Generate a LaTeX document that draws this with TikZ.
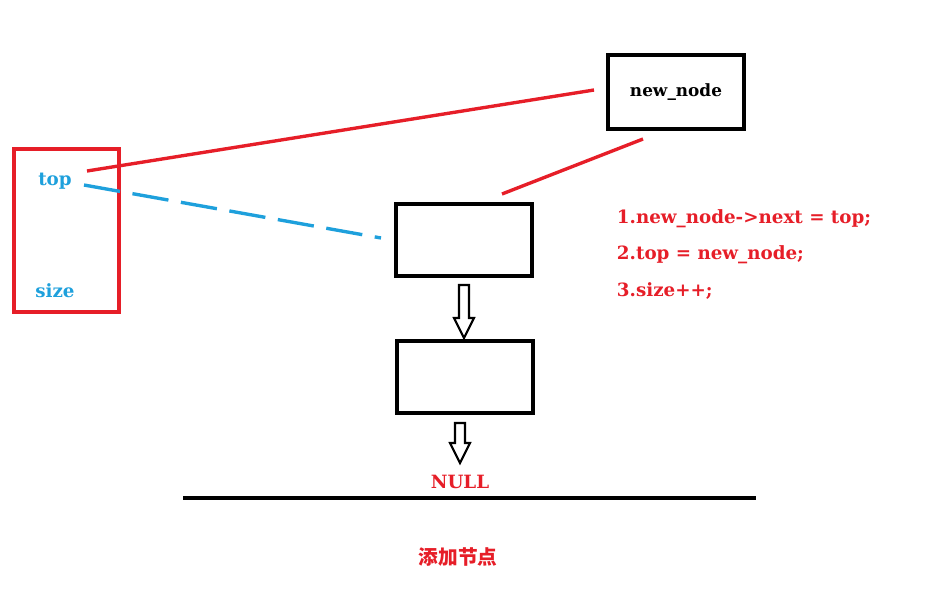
\documentclass[tikz,border=0pt]{standalone}
\usepackage{fontspec}
\setmainfont{DejaVu Serif}
\newfontfamily\cjk{Noto Sans CJK SC}
\usetikzlibrary{positioning}
\definecolor{StackRed}{RGB}{230, 30, 40}
\definecolor{StackBlue}{RGB}{30, 160, 220}
\begin{document}
\begin{tikzpicture}[x=0.025cm,y=-0.025cm,
    listbox/.style={draw=black, line width=2.6pt, minimum width=3.4cm, minimum height=1.8cm, inner sep=0pt},
    redtxt/.style={text=StackRed, font=\bfseries\fontsize{13}{15}\selectfont},
    bluetxt/.style={text=StackBlue, font=\bfseries\fontsize{13}{15}\selectfont},
    hollowarrow/.style={draw=black, line width=1.5pt, fill=white}]
    \useasboundingbox (0,0) rectangle (947,606);
    % Stack struct
    \draw[StackRed, line width=2.6pt] (14,149) rectangle (119,312);
    \node[bluetxt] (top) at (55,181) {top};
    \node[bluetxt] (size) at (55,291) {size};
    % List nodes
    \node[listbox, minimum width=3.4cm, minimum height=1.85cm] (newnode) at (676,92) {\bfseries\fontsize{12}{14}\selectfont new\_node};
    \node[listbox] (first) at (464,240) {};
    \node[listbox] (second) at (465,377) {};
    % Link ends
    \coordinate (topend) at (87,171);
    \coordinate (newin) at (594,90);
    \coordinate (newout) at (643,139);
    \coordinate (firstin) at (502,194);
    \coordinate (topold) at (84,185);
    \coordinate (firstold) at (381,238);
    \draw[StackRed, line width=2.4pt] (topend) -- (newin);
    \draw[StackRed, line width=2.4pt] (newout) -- (firstin);
    \draw[StackBlue, line width=2.4pt, dash pattern=on 26pt off 9pt] (topold) -- (firstold);
    % Next arrows
    \foreach \xa/\ya/\yb in {464/285/338, 460/423/463} {
        \draw[hollowarrow] (\xa-5,\ya) -- (\xa+5,\ya) -- (\xa+5,\yb-20) -- (\xa+10,\yb-20)
            -- (\xa,\yb) -- (\xa-10,\yb-20) -- (\xa-5,\yb-20) -- cycle;
    }
    \node[redtxt] (null) at (460,482) {NULL};
    \coordinate (baseL) at (183,498);
    \coordinate (baseR) at (756,498);
    \draw[black, line width=2.4pt] (baseL) -- (baseR);
    % Steps
    \node[redtxt, anchor=west] (step1) at (612,219) {1.new\_node->next = top;};
    \node[redtxt, anchor=west] (step2) at (612,255) {2.top = new\_node;};
    \node[redtxt, anchor=west] (step3) at (612,291) {3.size++;};
    \node[text=StackRed, font=\cjk\bfseries\fontsize{14}{16}\selectfont] (caption) at (458,557) {添加节点};
\end{tikzpicture}
\end{document}
